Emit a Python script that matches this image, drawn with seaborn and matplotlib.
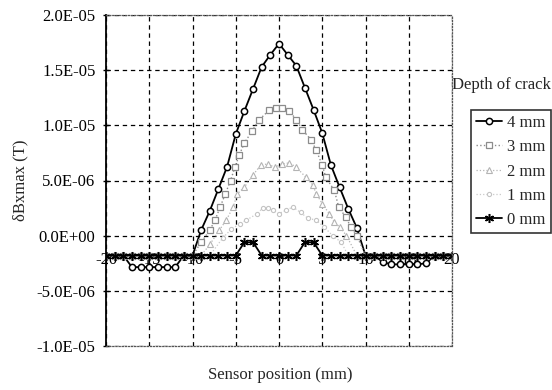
import matplotlib
matplotlib.use("Agg")
import matplotlib.pyplot as plt
from matplotlib.ticker import FuncFormatter
import seaborn as sns

# Sensor positions (mm) for the 1 mm sampled series
pos_grid = list(range(-20, 21))

# δBxmax values in units of 1e-6 T
bx_4mm = [-1.8, -1.8, -1.8,
          -2.85, -2.85, -2.85, -2.85, -2.85, -2.85,
          -1.8, -1.8,
          0.5, 2.25, 4.25, 6.25, 9.2, 11.3, 13.3, 15.3, 16.4, 17.4,
          16.4, 15.4, 13.4, 11.4, 9.3, 6.4, 4.4, 2.45, 0.7,
          -1.8, -1.8,
          -2.4, -2.6, -2.6, -2.6, -2.6, -2.5,
          -1.8, -1.8, -1.8]

bx_0mm = [-1.8] * 16 + [-0.6, -0.6] + [-1.8] * 5 + [-0.6, -0.6] + [-1.8] * 16

pos_3mm = ([-20, -19, -18, -17, -16, -15, -14, -13, -12, -11, -10, -9]
           + [-8.0, -7.4, -6.8, -6.2, -5.6, -5.1, -4.6, -4.0, -3.1, -2.3,
              -1.1, -0.4, 0.4, 1.2, 2.0, 2.7, 3.7, 4.3, 5.0, 5.4, 6.4, 6.9,
              7.7, 8.3, 9.0]
           + [10, 11, 12, 13, 14, 15, 16, 17, 18, 19, 20])
bx_3mm = ([-1.8] * 11 + [-0.6]
          + [0.5, 1.4, 2.6, 3.8, 5.0, 6.2, 7.3, 8.4, 9.5, 10.5,
             11.4, 11.6, 11.6, 11.3, 10.5, 9.6, 8.7, 7.75, 6.4, 5.3, 4.1, 2.6,
             1.7, 0.8, 0.0]
          + [-1.8] * 11)

pos_2mm = ([-20, -19, -18, -17, -16, -15, -14, -13, -12, -11, -10, -9, -8]
           + [-6.9, -6.1, -5.3, -4.8, -4.0, -3.0, -2.1, -1.3, -0.5, 0.4, 1.2,
              2.0, 3.1, 3.9, 4.3, 5.0, 5.8, 6.4, 7.0, 7.8]
           + [9, 10, 11, 12, 13, 14, 15, 16, 17, 18, 19, 20])
bx_2mm = ([-1.8] * 12 + [-0.8]
          + [0.5, 1.4, 2.6, 3.8, 4.4, 5.5, 6.4, 6.5, 6.2, 6.5, 6.6,
             6.2, 5.3, 4.6, 3.8, 2.9, 2.0, 1.2, 0.8, 0.0]
          + [-1.8] * 12)

pos_1mm = ([-20, -19, -18, -17, -16, -15, -14, -13, -12, -11, -10, -9, -8]
           + [-6.5, -5.5, -4.5, -3.8, -2.5, -1.9, -1.3, -0.7, 0.0, 0.8, 1.6,
              2.5, 3.3, 4.3, 5.2, 6.2, 7.2]
           + [8, 9, 10, 11, 12, 13, 14, 15, 16, 17, 18, 19, 20])
bx_1mm = ([-1.8] * 13
          + [-0.2, 0.6, 1.1, 1.4, 2.0, 2.5, 2.5, 2.3, 2.0, 2.3, 2.6,
             2.1, 1.6, 1.4, 0.8, 0.0, -0.6]
          + [-1.8] * 13)

depth_labels = ["4 mm", "3 mm", "2 mm", "1 mm", "0 mm"]
x_ticks = [-20, -15, -10, -5, 0, 5, 10, 15, 20]
y_ticks = [-1.0e-5, -5.0e-6, 0.0, 5.0e-6, 1.0e-5, 1.5e-5, 2.0e-5]

sns.set_theme(style="white")
plt.rcParams["font.family"] = ["Liberation Serif", "DejaVu Serif"]
plt.rcParams["font.size"] = 12

fig = plt.figure(figsize=(5.52, 3.90), dpi=100)
ax = fig.add_axes([106 / 552, 1 - 346 / 390, (452 - 106) / 552, (346 - 15) / 390])

scale = 1e-6
series = [
    (pos_grid, bx_4mm, dict(color="black", marker="o", markersize=4.5,
                            markerfacecolor="white", markeredgecolor="black",
                            markeredgewidth=1.1, linewidth=1.3, linestyle="-")),
    (pos_3mm, bx_3mm, dict(color="#8c8c8c", marker="s", markersize=4.5,
                           markerfacecolor="white", markeredgecolor="#8c8c8c",
                           markeredgewidth=0.9, linewidth=1.0, linestyle=":")),
    (pos_2mm, bx_2mm, dict(color="#b4b4b4", marker="^", markersize=4.5,
                           markerfacecolor="white", markeredgecolor="#b4b4b4",
                           markeredgewidth=0.8, linewidth=0.9, linestyle=":")),
    (pos_1mm, bx_1mm, dict(color="#cacaca", marker="o", markersize=3,
                           markerfacecolor="white", markeredgecolor="#c4c4c4",
                           markeredgewidth=0.8, linewidth=0.9, linestyle=":")),
    (pos_grid, bx_0mm, dict(color="black", marker=(6, 2, 0), markersize=6.5,
                            markeredgecolor="black", markeredgewidth=1.1,
                            linewidth=1.3, linestyle="-")),
]

for (xs, ys, style), label in zip(series, depth_labels):
    sns.lineplot(x=xs, y=[v * scale for v in ys], ax=ax, estimator=None,
                 sort=False, label=label, **style)

ax.set_xlim(x_ticks[0], x_ticks[-1])
ax.set_ylim(y_ticks[0], y_ticks[-1])
ax.set_xticks(x_ticks)
ax.set_yticks(y_ticks)
ax.yaxis.set_major_formatter(FuncFormatter(lambda v, _: f"{v:.1E}"))
ax.tick_params(axis="y", direction="inout", length=5, width=1.0,
               left=True, labelsize=12, pad=5, colors="black")
ax.tick_params(axis="x", bottom=False, labelbottom=False)

# dashed grid
ax.grid(True, color="black", linestyle=(0, (3.5, 3)), linewidth=0.9)
ax.set_axisbelow(True)

# frame: solid left axis, dotted border elsewhere
ax.spines["left"].set_color("black")
ax.spines["left"].set_linewidth(1.3)
for side in ("top", "right", "bottom"):
    ax.spines[side].set_color("#555555")
    ax.spines[side].set_linestyle((0, (1, 1.5)))
    ax.spines[side].set_linewidth(0.9)

# category labels sit just under the zero line
for t in x_ticks:
    ax.text(t, -2.2e-6, f"{t}", ha="center", va="center", fontsize=12,
            color="black", zorder=1)

ax.set_xlabel("")
ax.set_ylabel("δBxmax (T)", fontsize=12, labelpad=6)
fig.text(280 / 552, 1 - 375 / 390, "Sensor position (mm)", ha="center",
         va="center", fontsize=12)
fig.text(452 / 552, 1 - 85 / 390, "Depth of crack", ha="left", va="center",
         fontsize=12)

leg = ax.legend(loc="upper right", bbox_to_anchor=(0.998, 1 - 110 / 390),
                bbox_transform=fig.transFigure, borderaxespad=0.0,
                frameon=True, fancybox=False, shadow=False,
                handlelength=1.6, handletextpad=0.3, labelspacing=0.5,
                borderpad=0.3, fontsize=12)
leg.get_frame().set_edgecolor("black")
leg.get_frame().set_linewidth(1.2)

fig.savefig("out.png", dpi=100)
